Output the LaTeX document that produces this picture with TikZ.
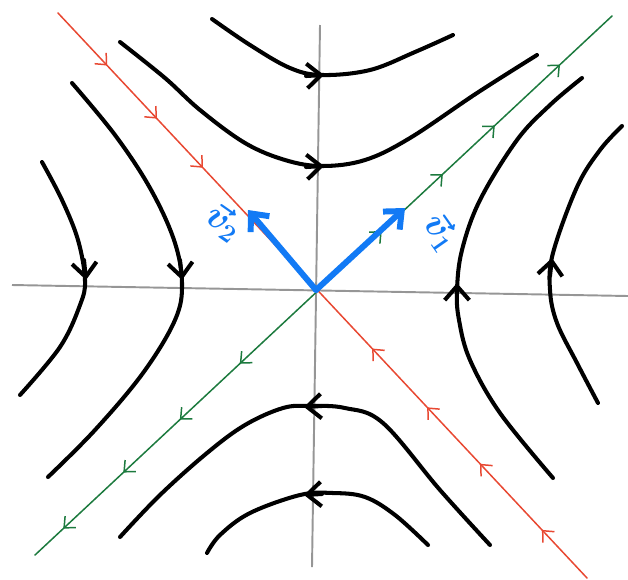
\documentclass[tikz,border=0pt]{standalone}
\usepackage{amsmath,amssymb}
\usepackage{xcolor}
\usepackage{tikz}
\usetikzlibrary{arrows.meta,decorations.markings}

\definecolor{eigred}{RGB}{232,72,50}
\definecolor{eiggreen}{RGB}{28,122,62}
\definecolor{vecblue}{RGB}{18,122,245}
\definecolor{axgray}{RGB}{150,150,150}

\begin{document}
\begin{tikzpicture}[x=0.02cm, y=-0.02cm,
    axis/.style={draw=axgray, line width=1.1pt},
    traj/.style={draw=black, line width=2.3pt, line cap=round, line join=round},
    trajtip/.style={traj, -{Straight Barb[length=8pt,width=14pt]}},
    eigline/.style={line width=0.85pt, line cap=round},
    fwd/.style={postaction={decorate, decoration={markings,
        mark=at position #1 with {\arrow{Straight Barb[length=5pt,width=9pt]}}}}},
    bwd/.style={postaction={decorate, decoration={markings,
        mark=at position #1 with {\arrowreversed{Straight Barb[length=5pt,width=9pt]}}}}},
    eigvec/.style={draw=vecblue, line width=3.4pt, line cap=round,
        -{Straight Barb[length=8pt,width=14pt]}},
    veclabel/.style={text=vecblue, font=\huge\boldmath, inner sep=0pt}]

    \useasboundingbox (0,0) rectangle (628,579);

    % axes
    \coordinate (O) at (316,290);
    \draw [axis] (12,285) -- (628,296);
    \draw [axis] (320,25) -- (312,567);

    % eigenlines
    \coordinate (r0) at (58,13);
    \coordinate (r1) at (587,578);
    \coordinate (g0) at (35,555);
    \coordinate (g1) at (612,16);
    \draw [eigline, eigred, fwd=0.093, fwd=0.187, fwd=0.274,
        bwd=0.594, bwd=0.698, bwd=0.798, bwd=0.915] (r0) -- (r1);
    \draw [eigline, eiggreen, bwd=0.049, bwd=0.153, bwd=0.251, bwd=0.355,
        fwd=0.601, fwd=0.707, fwd=0.797, fwd=0.910] (g0) -- (g1);

    % trajectories
    \draw [traj] plot[smooth, tension=0.6] coordinates {(212,19) (250,45) (290,68) (322,75) (370,70) (415,52) (453,35)};
    \draw [trajtip] (306,76) -- (324,75);
    \draw [traj] plot[smooth, tension=0.6] coordinates {(120,42) (165,78) (200,110) (245,143) (285,160) (322,166) (365,160) (410,138) (477,93) (537,55)};
    \draw [trajtip] (306,167) -- (324,166);

    \draw [traj] plot[smooth, tension=0.6] coordinates {(42,162) (62,200) (78,240) (85,280) (80,305) (60,347) (20,395)};
    \draw [trajtip] (84,260) -- (86,280);
    \draw [traj] plot[smooth, tension=0.6] coordinates {(72,83) (115,135) (150,188) (174,240) (182,283) (175,320) (143,373) (95,430) (48,477)};
    \draw [trajtip] (180,260) -- (182,280);

    \draw [traj] plot[smooth, tension=0.6] coordinates {(553,478) (500,413) (470,360) (459,320) (457,290) (462,250) (480,200) (517,140) (550,105) (582,78)};
    \draw [trajtip] (457,302) -- (457,283);
    \draw [traj] plot[smooth, tension=0.6] coordinates {(598,403) (577,363) (557,323) (550,290) (553,253) (577,187) (600,150) (622,126)};
    \draw [trajtip] (550,276) -- (552,258);

    \draw [traj] plot[smooth, tension=0.6] coordinates {(490,545) (440,490) (383,423) (345,408) (310,406) (283,408) (245,425) (207,453) (160,495) (120,537)};
    \draw [trajtip] (322,406) -- (304,407);
    \draw [traj] plot[smooth, tension=0.6] coordinates {(428,545) (395,515) (365,497) (333,493) (300,495) (250,513) (220,535) (207,553)};
    \draw [trajtip] (322,494) -- (304,495);

    % eigenvectors
    \coordinate (v1tip) at (405,208);
    \coordinate (v2tip) at (248,210);
    \draw [eigvec] (O) -- (v1tip);
    \draw [eigvec] (O) -- (v2tip);
    \node [veclabel, rotate=-35] (v2lab) at (224,222) {$\vec{v}_2$};
    \node [veclabel, rotate=-55] (v1lab) at (441,232) {$\vec{v}_1$};
\end{tikzpicture}
\end{document}
